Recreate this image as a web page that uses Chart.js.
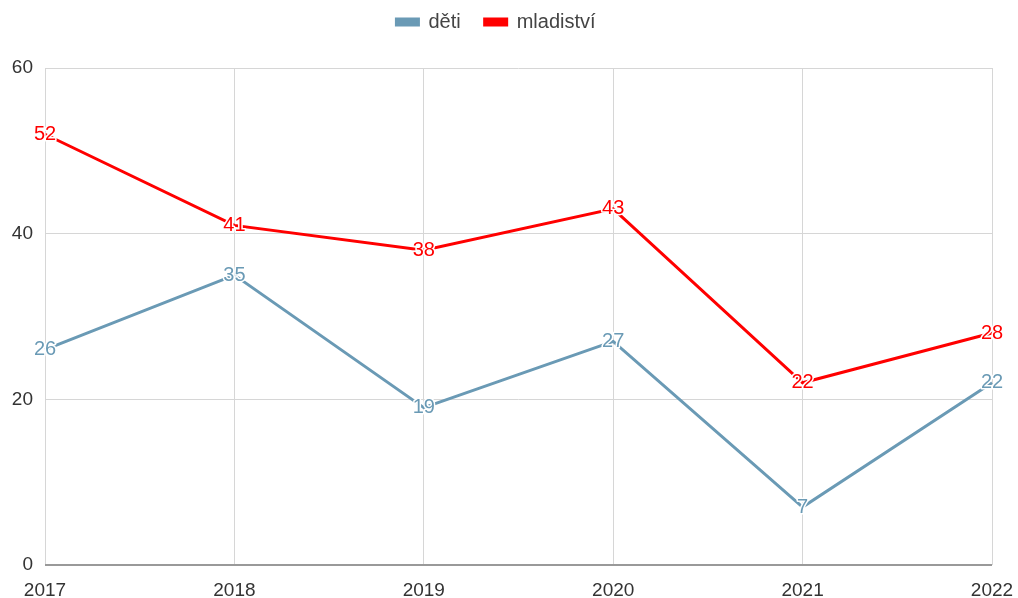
<!DOCTYPE html>
<html>
<head>
<meta charset="utf-8">
<script src="https://cdn.jsdelivr.net/npm/chart.js@4"></script>
<style>
  html, body { margin: 0; padding: 0; background: #fff; }
  #wrap { width: 1018px; height: 598px; }
</style>
</head>
<body>
<div id="wrap"><canvas id="myChart"></canvas></div>
<script>
const years = ['2017', '2018', '2019', '2020', '2021', '2022'];
const deti = [26, 35, 19, 27, 7, 22];
const mladistvi = [52, 41, 38, 43, 22, 28];
const yTicks = [0, 20, 40, 60];

Chart.defaults.font.family = '"Liberation Sans", Arial, sans-serif';
Chart.defaults.font.size = 19;

// labels sitting right on the points, with a white halo
const pointLabels = {
  id: 'pointLabels',
  afterDatasetsDraw(chart) {
    const c = chart.ctx;
    c.save();
    c.font = '20px "Liberation Sans", Arial, sans-serif';
    c.textAlign = 'center';
    c.textBaseline = 'middle';
    c.lineJoin = 'round';
    chart.data.datasets.forEach((ds, i) => {
      chart.getDatasetMeta(i).data.forEach((pt, j) => {
        const txt = String(ds.data[j]);
        c.strokeStyle = '#fff';
        c.lineWidth = 3;
        c.strokeText(txt, pt.x, pt.y);
        c.fillStyle = ds.borderColor;
        c.fillText(txt, pt.x, pt.y);
      });
    });
    c.restore();
  }
};

// more room under the legend
const legendGap = {
  id: 'legendGap',
  afterInit(chart) {
    const fit = chart.legend.fit;
    chart.legend.fit = function () {
      fit.call(this);
      this.height += 26;
    };
  }
};

const ctx = document.getElementById('myChart');

new Chart(ctx, {
  type: 'line',
  data: {
    labels: years,
    datasets: [{
      label: 'děti',
      data: deti,
      borderColor: '#6a9ab5',
      backgroundColor: '#6a9ab5',
      borderWidth: 3,
      pointRadius: 0,
      tension: 0
    }, {
      label: 'mladiství',
      data: mladistvi,
      borderColor: '#ff0000',
      backgroundColor: '#ff0000',
      borderWidth: 3,
      pointRadius: 0,
      tension: 0
    }]
  },
  options: {
    responsive: true,
    maintainAspectRatio: false,
    animation: false,
    layout: {
      padding: { top: -12, right: 26, left: 0, bottom: 0 }
    },
    plugins: {
      legend: {
        position: 'top',
        labels: {
          color: '#444',
          boxWidth: 22,
          boxHeight: 6,
          padding: 24,
          font: { size: 20 }
        }
      },
      tooltip: { enabled: false }
    },
    scales: {
      x: {
        offset: false,
        grid: { color: '#d6d6d6', lineWidth: 1, drawTicks: false },
        border: { display: false },
        ticks: { color: '#333', padding: 14, maxRotation: 0 },
        afterFit(s) {
          s.height = 33;
          s.paddingLeft = 0;
          s.paddingRight = 0;
        }
      },
      y: {
        min: 0,
        max: 60,
        afterBuildTicks(s) { s.ticks = yTicks.map(v => ({ value: v })); },
        grid: {
          drawTicks: false,
          color: ctx => ctx.tick.value === 0 ? '#999' : '#d6d6d6',
          lineWidth: ctx => ctx.tick.value === 0 ? 2 : 1
        },
        border: { display: false },
        ticks: { color: '#333', padding: 12 },
        afterFit(s) { s.width = 45; }
      }
    }
  },
  plugins: [pointLabels, legendGap]
});
</script>
</body>
</html>
